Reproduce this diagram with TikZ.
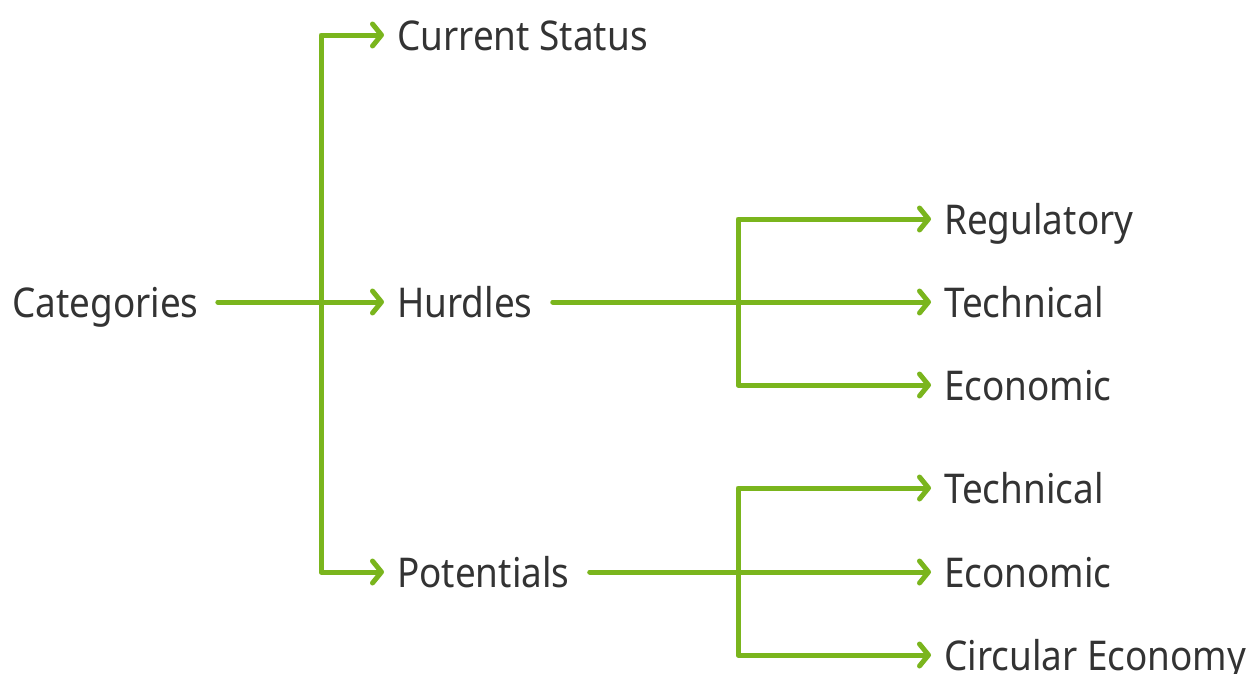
\documentclass[tikz,border=0pt]{standalone}
\usepackage{fontspec}
\setmainfont{Noto Sans}[FakeStretch=0.90]
\usetikzlibrary{arrows.meta}
\definecolor{linegreen}{HTML}{7AB51D}
\definecolor{txtgray}{HTML}{333333}
\tikzset{
  lbl/.style={anchor=west, inner sep=0pt, text height=30pt, text depth=0pt,
    text=txtgray, font=\fontsize{41}{48}\selectfont},
  conn/.style={draw=linegreen, line width=5pt, line cap=round, line join=round,
    -{Straight Barb[length=9pt,width=22pt,round]}},
  conn2/.style={draw=linegreen, line width=5pt, line cap=round, line join=round,
    {Straight Barb[length=9pt,width=22pt,round]}-{Straight Barb[length=9pt,width=22pt,round]}},
}
\begin{document}
\begin{tikzpicture}[x=1pt,y=-1pt]
\useasboundingbox (0,0) rectangle (1246,673);
\node[lbl] (cat) at (12,302) {Categories};
\node[lbl] (cs)  at (397,35) {Current Status};
\node[lbl] (hur) at (397,302) {Hurdles};
\node[lbl] (pot) at (397,572) {Potentials};
\node[lbl] (reg) at (944,219) {Regulatory};
\node[lbl] (ht)  at (944,302) {Technical};
\node[lbl] (he)  at (944,385) {Economic};
\node[lbl] (pt)  at (944,488) {Technical};
\node[lbl] (pe)  at (944,572) {Economic};
\node[lbl] (pc)  at (944,655) {Circular Economy};
\coordinate (j1) at (321,302);
\coordinate (j2) at (738,302);
\coordinate (j3) at (738,572);
\draw[conn] ([xshift=19pt]cat.east) -- ([xshift=-13pt]hur.west);
\draw[conn2] ([xshift=-13pt]cs.west) -| (j1) |- ([xshift=-13pt]pot.west);
\draw[conn] ([xshift=20pt]hur.east) -- ([xshift=-13pt]ht.west);
\draw[conn2] ([xshift=-13pt]reg.west) -| (j2) |- ([xshift=-13pt]he.west);
\draw[conn] ([xshift=20pt]pot.east) -- ([xshift=-13pt]pe.west);
\draw[conn2] ([xshift=-13pt]pt.west) -| (j3) |- ([xshift=-13pt]pc.west);
\end{tikzpicture}
\end{document}
